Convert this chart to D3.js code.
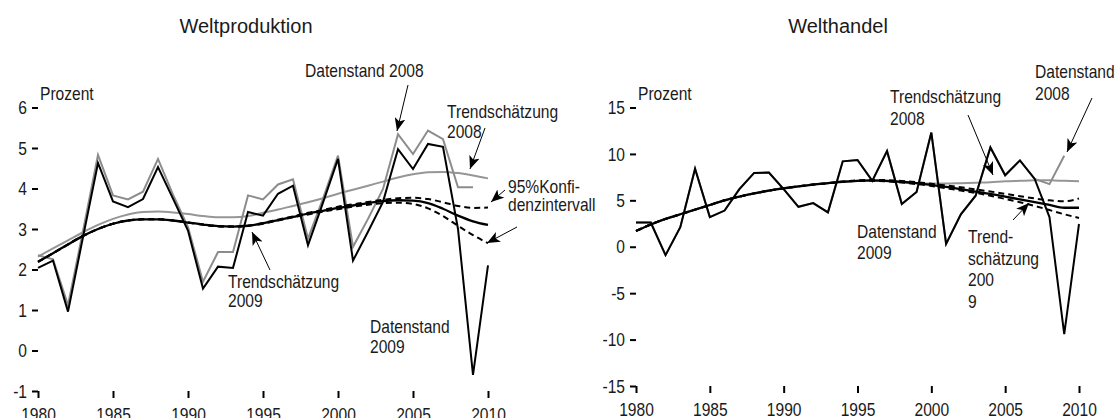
<!DOCTYPE html>
<html>
<head>
<meta charset="utf-8">
<script src="https://cdn.jsdelivr.net/npm/d3@7"></script>
<style>
  body { margin: 0; background: #fff; }
  text { font-family: "Liberation Sans Narrow", "Arial Narrow", "Liberation Sans", Arial, sans-serif; fill: #1a1a1a; }
</style>
</head>
<body>
<div id="chart"></div>
<script>
// years 1980..2010
const years = d3.range(1980, 2011)

// Weltproduktion (Prozent)
const prodData2009 = [2.04, 2.22, 0.96, 2.8, 4.63, 3.68, 3.54, 3.74, 4.53, 3.75, 2.96, 1.53, 2.07, 2.04, 3.42, 3.33, 3.87, 4.07, 2.6, 3.65, 4.73, 2.22, 2.93, 3.67, 4.97, 4.48, 5.1, 5.03, 3.0, -0.6, 2.1]
const prodData2008 = [2.35, 2.25, 1.12, 2.95, 4.83, 3.83, 3.73, 3.92, 4.73, 3.85, 3.05, 1.7, 2.43, 2.43, 3.83, 3.73, 4.1, 4.23, 2.76, 3.75, 4.81, 2.56, 3.25, 3.99, 5.34, 4.85, 5.43, 5.22, 4.03, 4.03, null]
const prodTrend2009 = [2.19, 2.4, 2.62, 2.83, 3.0, 3.13, 3.21, 3.24, 3.24, 3.21, 3.16, 3.11, 3.07, 3.06, 3.08, 3.14, 3.22, 3.3, 3.38, 3.45, 3.52, 3.58, 3.64, 3.69, 3.71, 3.7, 3.64, 3.5, 3.33, 3.19, 3.1]
const prodUpper2009 = [2.19, 2.4, 2.62, 2.83, 3.0, 3.13, 3.21, 3.24, 3.24, 3.21, 3.16, 3.11, 3.07, 3.06, 3.08, 3.15, 3.23, 3.31, 3.4, 3.47, 3.55, 3.61, 3.67, 3.72, 3.76, 3.77, 3.74, 3.66, 3.57, 3.52, 3.53]
const prodLower2009 = [2.19, 2.4, 2.62, 2.83, 3.0, 3.13, 3.21, 3.24, 3.24, 3.21, 3.16, 3.11, 3.07, 3.06, 3.08, 3.13, 3.21, 3.29, 3.36, 3.43, 3.49, 3.55, 3.6, 3.64, 3.65, 3.62, 3.51, 3.32, 3.08, 2.85, 2.65]
const prodTrend2008 = [2.32, 2.52, 2.72, 2.92, 3.1, 3.25, 3.36, 3.42, 3.43, 3.41, 3.37, 3.32, 3.29, 3.29, 3.32, 3.4, 3.48, 3.57, 3.66, 3.76, 3.87, 3.97, 4.07, 4.17, 4.27, 4.35, 4.4, 4.41, 4.38, 4.32, 4.25]

// Welthandel (Prozent)
const tradeData2009 = [2.6, 2.6, -0.9, 2.1, 8.4, 3.2, 3.9, 6.2, 7.95, 8.0, 6.2, 4.3, 4.7, 3.7, 9.2, 9.35, 7.1, 10.3, 4.6, 5.9, 12.3, 0.3, 3.5, 5.5, 10.7, 7.7, 9.3, 7.3, 3.2, -9.4, 2.45]
const tradeData2008 = [2.6, 2.6, -0.9, 2.1, 8.4, 3.2, 3.9, 6.2, 7.95, 8.0, 6.2, 4.3, 4.7, 3.7, 9.2, 9.35, 7.1, 10.3, 4.6, 5.9, 12.3, 0.3, 3.5, 5.5, 10.7, 7.7, 9.3, 7.3, 6.75, 9.8, null]
const tradeTrend2009 = [1.7, 2.4, 3.0, 3.5, 4.0, 4.5, 5.0, 5.4, 5.75, 6.05, 6.3, 6.5, 6.7, 6.85, 7.0, 7.1, 7.15, 7.1, 7.0, 6.85, 6.65, 6.45, 6.2, 5.95, 5.7, 5.4, 5.1, 4.8, 4.5, 4.2, 4.2]
const tradeUpper2009 = [1.7, 2.4, 3.0, 3.5, 4.0, 4.5, 5.0, 5.4, 5.75, 6.05, 6.3, 6.5, 6.7, 6.85, 7.0, 7.15, 7.2, 7.17, 7.08, 6.95, 6.78, 6.6, 6.4, 6.18, 5.95, 5.7, 5.45, 5.2, 5.0, 4.9, 5.2]
const tradeLower2009 = [1.7, 2.4, 3.0, 3.5, 4.0, 4.5, 5.0, 5.4, 5.75, 6.05, 6.3, 6.5, 6.7, 6.85, 7.0, 7.08, 7.1, 7.03, 6.92, 6.75, 6.55, 6.3, 6.05, 5.8, 5.5, 5.15, 4.8, 4.4, 3.95, 3.5, 3.1]
const tradeTrend2008 = [1.7, 2.4, 3.0, 3.5, 4.0, 4.5, 5.0, 5.4, 5.75, 6.05, 6.3, 6.5, 6.7, 6.85, 7.0, 7.1, 7.1, 7.05, 6.95, 6.85, 6.8, 6.8, 6.85, 6.9, 6.95, 7.05, 7.1, 7.15, 7.15, 7.1, 7.05]

const xTicks = [1980, 1985, 1990, 1995, 2000, 2005, 2010]
const prodTicks = [-1, 0, 1, 2, 3, 4, 5, 6]
const tradeTicks = [-15, -10, -5, 0, 5, 10, 15]

const W = 1120, H = 418
const SQUEEZE = 0.82   // no narrow font installed, so squeeze glyphs

const svg = d3.select("#chart").append("svg")
  .attr("width", W).attr("height", H)

svg.append("defs").append("marker")
  .attr("id", "arrow")
  .attr("viewBox", "0 0 12 10")
  .attr("refX", 12).attr("refY", 5)
  .attr("markerUnits", "userSpaceOnUse")
  .attr("markerWidth", 13).attr("markerHeight", 11)
  .attr("orient", "auto")
  .append("path")
  .attr("d", "M0,0 L12,5 L0,10 L3,5 Z")
  .attr("fill", "#000")

// squeeze each text node horizontally
function narrow(sel) {
  sel.each(function() {
    const len = this.getComputedTextLength()
    d3.select(this).attr("textLength", len * SQUEEZE).attr("lengthAdjust", "spacingAndGlyphs")
  })
}

function label(g, x, y, str, size) {
  const t = g.append("text").attr("x", x).attr("y", y).style("font-size", size + "px").text(str)
  narrow(t)
  return t
}

function panel(opt) {
  const x = d3.scaleLinear().domain([1980, 2010]).range(opt.xr)
  const y = d3.scaleLinear().domain(opt.yd).range(opt.yr)
  const g = svg.append("g")

  // title
  g.append("text")
    .attr("x", opt.titleX).attr("y", 33)
    .attr("text-anchor", "middle")
    .style("font-size", "20px")
    .text(opt.title)

  // y ticks (no axis line)
  const yAxis = g.append("g")
    .attr("transform", `translate(${opt.xr[0]},0)`)
    .call(d3.axisLeft(y).tickValues(opt.yTicks).tickSize(6).tickPadding(5))
  yAxis.select(".domain").remove()
  yAxis.selectAll("line").attr("stroke", "#000").attr("stroke-width", 2)
  yAxis.selectAll("text")
    .style("font-size", "19px")
    .style("font-family", null)
    .attr("font-family", null)
    .attr("fill", "#1a1a1a")
    .text(d => d)
    .call(narrow)

  // x ticks
  const xAxis = g.append("g")
    .attr("transform", `translate(0,${opt.yr[0]})`)
    .call(d3.axisBottom(x).tickValues(xTicks).tickFormat(d3.format("d")).tickSize(7).tickPadding(10))
  xAxis.select(".domain").remove()
  xAxis.selectAll("line").attr("stroke", "#000").attr("stroke-width", 2)
  xAxis.attr("font-family", null)
  xAxis.selectAll("text")
    .style("font-size", "19px")
    .attr("fill", "#1a1a1a")
    .call(narrow)
  yAxis.attr("font-family", null)

  label(g, opt.xr[0] + 2, 100, "Prozent", 19)

  const line = d3.line()
    .defined(d => d[1] != null)
    .x(d => x(d[0])).y(d => y(d[1]))
  const smooth = d3.line()
    .defined(d => d[1] != null)
    .curve(d3.curveMonotoneX)
    .x(d => x(d[0])).y(d => y(d[1]))

  const pair = arr => years.map((yr, i) => [yr, arr[i]])

  const series = [
    {v: opt.trend2008, gen: smooth, color: "#969696", w: 2},
    {v: opt.data2008, gen: line, color: "#8c8c8c", w: 2},
    {v: opt.trend2009, gen: smooth, color: "#000", w: 2.3},
    {v: opt.upper2009, gen: smooth, color: "#000", w: 2, dash: "6,4"},
    {v: opt.lower2009, gen: smooth, color: "#000", w: 2, dash: "6,4"},
    {v: opt.data2009, gen: line, color: "#000", w: 2}
  ]
  g.selectAll("path.series")
    .data(series)
    .join("path")
    .attr("class", "series")
    .attr("d", d => d.gen(pair(d.v)))
    .attr("fill", "none")
    .attr("stroke", d => d.color)
    .attr("stroke-width", d => d.w)
    .attr("stroke-dasharray", d => d.dash || null)
    .attr("stroke-linejoin", "miter")

  // annotations, one text element per line
  opt.labels.forEach(l => {
    l.lines.forEach((s, i) => label(g, l.x, l.y + i * l.dy, s, 19))
  })
  g.selectAll("line.arrow")
    .data(opt.arrows)
    .join("line")
    .attr("class", "arrow")
    .attr("x1", d => d[0]).attr("y1", d => d[1])
    .attr("x2", d => d[2]).attr("y2", d => d[3])
    .attr("stroke", "#000").attr("stroke-width", 1)
    .attr("marker-end", "url(#arrow)")
}

panel({
  title: "Weltproduktion", titleX: 246,
  xr: [38, 488], yd: [-1, 6], yr: [391, 107.5], yTicks: prodTicks,
  data2009: prodData2009, data2008: prodData2008,
  trend2009: prodTrend2009, upper2009: prodUpper2009, lower2009: prodLower2009, trend2008: prodTrend2008,
  labels: [
    {x: 305, y: 77, dy: 20, lines: ["Datenstand 2008"]},
    {x: 447, y: 118, dy: 20, lines: ["Trendschätzung", "2008"]},
    {x: 508, y: 193, dy: 18, lines: ["95%Konfi-", "denzintervall"]},
    {x: 228, y: 288, dy: 19, lines: ["Trendschätzung", "2009"]},
    {x: 370, y: 333, dy: 20, lines: ["Datenstand", "2009"]}
  ],
  arrows: [
    [408, 85, 397, 131],
    [485, 128, 470, 169],
    [505, 190, 491, 202],
    [517, 227, 487, 243],
    [270, 270, 252, 232]
  ]
})

panel({
  title: "Welthandel", titleX: 838,
  xr: [636, 1079], yd: [-15, 15], yr: [386, 107.5], yTicks: tradeTicks,
  data2009: tradeData2009, data2008: tradeData2008,
  trend2009: tradeTrend2009, upper2009: tradeUpper2009, lower2009: tradeLower2009, trend2008: tradeTrend2008,
  labels: [
    {x: 1035, y: 78, dy: 22, lines: ["Datenstand", "2008"]},
    {x: 890, y: 103, dy: 21.5, lines: ["Trendschätzung", "2008"]},
    {x: 857, y: 238, dy: 21, lines: ["Datenstand", "2009"]},
    {x: 968, y: 243, dy: 21.5, lines: ["Trend-", "schätzung", "200", "9"]}
  ],
  arrows: [
    [1092, 98, 1067, 152],
    [968, 115, 993, 175],
    [1013, 220, 1029, 203]
  ]
})
</script>
</body>
</html>
